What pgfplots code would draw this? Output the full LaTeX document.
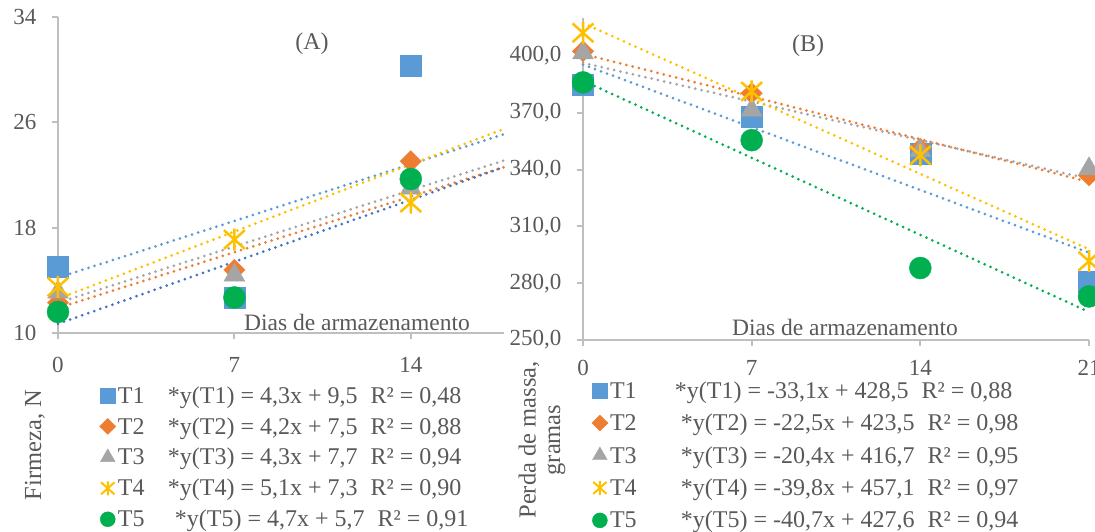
\documentclass[border=0pt]{standalone}
\usepackage{fontspec}
\setmainfont{Liberation Serif}
\usepackage{pgfplots}
\pgfplotsset{compat=1.18}
\definecolor{c1}{HTML}{5B9BD5}
\definecolor{c2}{HTML}{ED7D31}
\definecolor{c3}{HTML}{A5A5A5}
\definecolor{c4}{HTML}{FFC000}
\definecolor{c5}{HTML}{00B050}
\definecolor{c5l}{HTML}{4472C4}
\definecolor{axc}{HTML}{BFBFBF}
\definecolor{txt}{HTML}{595959}
\pgfdeclareplotmark{xstar}{%
  \pgfpathmoveto{\pgfqpoint{-0.95\pgfplotmarksize}{-0.85\pgfplotmarksize}}%
  \pgfpathlineto{\pgfqpoint{0.95\pgfplotmarksize}{0.85\pgfplotmarksize}}%
  \pgfpathmoveto{\pgfqpoint{-0.95\pgfplotmarksize}{0.85\pgfplotmarksize}}%
  \pgfpathlineto{\pgfqpoint{0.95\pgfplotmarksize}{-0.85\pgfplotmarksize}}%
  \pgfpathmoveto{\pgfqpoint{0pt}{-\pgfplotmarksize}}%
  \pgfpathlineto{\pgfqpoint{0pt}{\pgfplotmarksize}}%
  \pgfusepathqstroke}
\newcommand{\fs}[1]{\fontsize{#1}{#1}\selectfont}
\pgfplotsset{
  panel/.style={
    scale only axis, clip=false,
    axis lines*=left,
    axis line style={axc, line width=2pt},
    tick style={axc, line width=2pt},
    major tick length=6pt, tick align=outside,
    tick label style={font=\fs{23}, text=txt},
    yticklabel style={xshift=-12pt},
    xticklabel style={inner sep=1pt, yshift=-13pt},
    legend cell align=left,
    legend style={draw=none, fill=none, inner sep=0pt, font=\fs{24}, text=txt},
  },
  trend/.style={#1, line width=3pt, line cap=round, dash pattern=on 0pt off 6.4pt, forget plot},
  msq/.style={only marks, mark=square*, mark size=10.5pt, color=c1, legend image post style={mark size=7.5pt}},
  mdi/.style={only marks, mark=diamond*, mark size=10.5pt, mark options={xscale=1.35}, color=c2, legend image post style={mark size=8pt}},
  mtr/.style={only marks, mark=triangle*, mark size=12pt, color=c3, legend image post style={mark size=8.5pt}},
  mst/.style={only marks, mark=xstar, mark size=11pt, mark options={line width=2.5pt}, color=c4, legend image post style={mark size=7pt, mark options={line width=2pt}}},
  mci/.style={only marks, mark=*, mark size=11pt, color=c5, legend image post style={mark size=7.5pt}},
}
\begin{document}
\begin{tikzpicture}[x=1pt,y=1pt]
\useasboundingbox (0,0) rectangle (1095,531);
% ---------------- Panel A ----------------
\begin{axis}[panel,
  at={(58pt,198pt)}, anchor=south west, width=446pt, height=316pt,
  xmin=0, xmax=17.7, ymin=10, ymax=34,
  xtick={0,7,14}, xticklabels={0,7,14},
  xticklabel style={yshift=-4pt},
  ytick={10,18,26,34}, yticklabels={10,18,26,34},
  legend style={at={(0.093,-0.162)}, anchor=north west, row sep=8.8pt},
]
\addplot[trend=c1] coordinates {(0,14.2) (17.7,25.1)};
\addplot[trend=c3] coordinates {(0,12.3) (17.7,23.1)};
\addplot[trend=c2] coordinates {(0,11.9) (17.7,22.6)};
\addplot[trend=c5l] coordinates {(0,10.7) (17.7,22.6)};
\addplot[trend=c4] coordinates {(0,12.6) (17.7,25.5)};
\addplot[msq] coordinates {(0,15.0) (7,12.65) (14,30.3)};
\addlegendentry{\makebox[50pt][l]{T1}*y(T1) = 4,3x + 9,5\hspace{13pt}R² = 0,48}
\addplot[mdi] coordinates {(0,12.3) (7,14.8) (14,23.05)};
\addlegendentry{\makebox[50pt][l]{T2}*y(T2) = 4,2x + 7,5\hspace{13pt}R² = 0,88}
\addplot[mtr] coordinates {(0,13.1) (7,14.4) (14,21.0)};
\addlegendentry{\makebox[50pt][l]{T3}*y(T3) = 4,3x + 7,7\hspace{13pt}R² = 0,94}
\addplot[mst] coordinates {(0,13.5) (7,17.1) (14,19.9)};
\addlegendentry{\makebox[50pt][l]{T4}*y(T4) = 5,1x + 7,3\hspace{13pt}R² = 0,90}
\addplot[mci] coordinates {(0,11.6) (7,12.7) (14,21.7)};
\addlegendentry{\makebox[57pt][l]{T5}*y(T5) = 4,7x + 5,7\hspace{13pt}R² = 0,91}
\end{axis}
% ---------------- Panel B ----------------
\begin{axis}[panel,
  at={(583pt,191pt)}, anchor=south west, width=506pt, height=322pt,
  xmin=0, xmax=21, ymin=250, ymax=420,
  xtick={0,7,14,21}, xticklabels={0,7,14,21},
  ytick={250,280,310,340,370,400},
  yticklabels={{250,0},{280,0},{310,0},{340,0},{370,0},{400,0}},
  legend style={at={(0.017,-0.122)}, anchor=north west, row sep=10.3pt},
]
\addplot[trend=c1] coordinates {(0,395.4) (21,296.1)};
\addplot[trend=c2] coordinates {(0,401.0) (21,333.5)};
\addplot[trend=c3] coordinates {(0,396.3) (21,335.1)};
\addplot[trend=c4] coordinates {(0,417.3) (21,297.9)};
\addplot[trend=c5] coordinates {(0,386.9) (21,264.8)};
\addplot[msq] coordinates {(0,384.7) (7,367.9) (14,348.4) (21,281.0)};
\addlegendentry{\makebox[65pt][l]{T1}*y(T1) = -33,1x + 428,5\hspace{13pt}R² = 0,88}
\addplot[mdi] coordinates {(0,402.5) (7,380.3) (14,351.0) (21,336.9)};
\addlegendentry{\makebox[71pt][l]{T2}*y(T2) = -22,5x + 423,5\hspace{13pt}R² = 0,98}
\addplot[mtr] coordinates {(0,401.6) (7,371.4) (14,350.0) (21,340.4)};
\addlegendentry{\makebox[71pt][l]{T3}*y(T3) = -20,4x + 416,7\hspace{13pt}R² = 0,95}
\addplot[mst] coordinates {(0,412.2) (7,381.2) (14,347.5) (21,291.6)};
\addlegendentry{\makebox[71pt][l]{T4}*y(T4) = -39,8x + 457,1\hspace{13pt}R² = 0,97}
\addplot[mci] coordinates {(0,386.0) (7,355.5) (14,288.0) (21,273.0)};
\addlegendentry{\makebox[71pt][l]{T5}*y(T5) = -40,7x + 427,6\hspace{13pt}R² = 0,94}
\end{axis}
% ---------------- texts ----------------
\node[font=\fs{24}, text=txt, anchor=base] at (312,481) {(A)};
\node[font=\fs{24}, text=txt, anchor=base] at (808,479) {(B)};
\node[font=\fs{23.5}, text=txt, anchor=base] at (357,201) {Dias de armazenamento};
\node[font=\fs{23.5}, text=txt, anchor=base] at (845,196) {Dias de armazenamento};
\node[font=\fs{24.5}, text=txt, anchor=base, rotate=90] at (41,86) {Firmeza, N};
\node[font=\fs{24.5}, text=txt, anchor=base, rotate=90, align=center] at (560,91) {Perda de massa,\\gramas};
\end{tikzpicture}
\end{document}
